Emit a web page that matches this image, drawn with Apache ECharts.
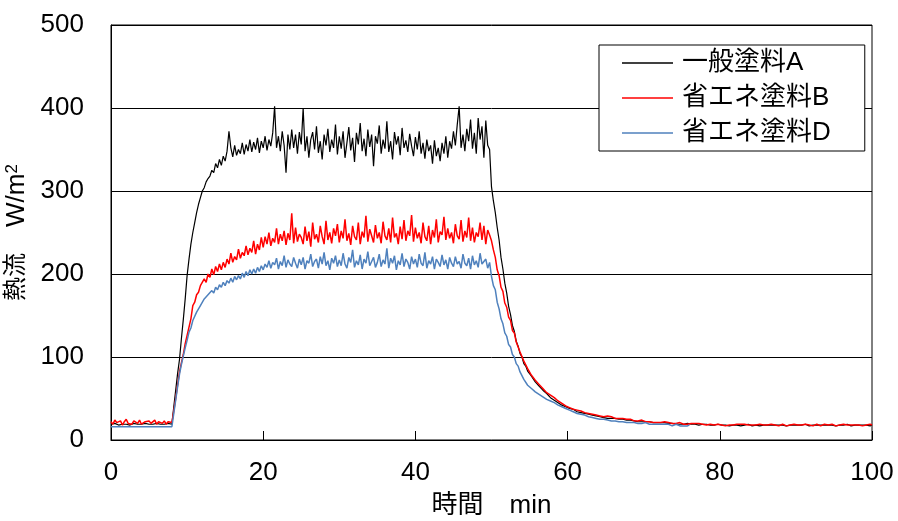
<!DOCTYPE html>
<html><head><meta charset="utf-8">
<script src="https://cdn.jsdelivr.net/npm/echarts@6/dist/echarts.min.js"></script>
<style>html,body{margin:0;padding:0;background:#fff}#c{width:898px;height:521px}</style>
</head><body><div id="c"></div>
<script>
// sampling interval of the measurements (minutes)
const stepMin = 0.25;
const seriesNames = ['一般塗料A', '省エネ塗料B', '省エネ塗料D'];
const xAxisTitle = '時間　min';
const yTicks = [0, 100, 200, 300, 400, 500];
const xTicks = [0, 20, 40, 60, 80, 100];

// 一般塗料A (W/m2), one value per 0.25 min from 0 to 100 min
const fluxA = [
19,19,20,19,18,19,19,20,19,19,18,19,20,19,19,18,19,19,20,19,
19,18,19,19,20,19,19,18,19,19,20,19,19,40,60,80,97,122,145,170,
198,218,236,250,262,274,284,292,300,304,311,315,318,325,322,333,328,338,331,342,
336,348,372,352,341,355,343,350,345,358,344,356,348,362,347,359,350,364,346,360,
352,366,349,362,354,370,402,352,366,348,372,355,322,368,350,374,352,368,345,371,
356,400,348,366,340,362,371,350,378,346,360,338,368,355,375,347,362,352,380,344,
366,351,372,340,358,377,349,364,335,370,356,382,348,363,342,374,353,368,330,366,
357,379,345,362,351,384,347,360,338,371,356,366,343,376,352,361,347,369,354,342,
365,350,372,345,358,339,362,348,355,333,361,342,352,336,358,345,366,340,360,351,
372,355,380,402,352,368,348,375,360,386,351,370,345,388,362,378,340,385,355,350,
305,288,274,256,241,220,206,189,177,161,151,138,131,119,113,104,100,92,89,83,
81,77,75,70,69,65,65,60,59,56,55,51,51,48,47,45,45,42,42,40,
39,38,37,37,36,34,35,33,33,32,31,31,30,30,29,29,28,28,28,27,
27,26,27,26,25,26,25,25,24,25,24,24,23,24,23,23,23,22,23,22,
22,22,21,22,21,21,22,21,20,21,20,21,20,20,21,20,20,19,20,19,
20,19,19,20,19,19,18,19,19,18,19,19,18,19,18,18,19,18,18,19,
18,18,19,18,18,17,18,18,19,18,18,17,18,18,18,19,18,17,18,18,
18,17,18,18,19,18,17,18,18,18,17,18,19,18,18,17,18,18,17,18,
18,18,17,18,18,19,18,17,18,18,17,18,18,18,17,18,19,18,17,18,
18,17,18,18,17,18,18,19,18,17,18,18,17,18,18,18,17,18,18,17,
18];

// 省エネ塗料B
const fluxB = [
22,19,24,21,20,23,18,22,25,20,21,19,23,22,20,24,19,21,22,20,
23,20,21,24,19,22,21,20,23,19,22,21,21,35,50,66,82,93,103,116,
126,136,146,162,166,175,178,186,185,194,190,200,196,206,199,209,203,212,205,214,
208,218,212,225,214,221,217,230,219,226,222,234,223,231,226,240,224,236,229,244,
232,245,236,250,234,243,238,255,236,248,240,252,235,249,241,273,237,256,239,248,
244,236,257,240,251,233,262,242,248,238,258,245,236,264,241,250,237,255,246,260,
238,252,243,266,240,249,235,258,245,241,262,236,251,244,270,239,254,246,238,259,
243,250,237,263,246,241,255,238,268,244,249,236,257,242,265,240,252,246,271,239,
256,243,250,237,262,245,240,258,236,253,244,266,238,251,247,269,241,255,243,250,
237,260,246,242,265,239,252,244,268,240,256,238,250,245,262,241,258,236,253,247,
240,229,220,205,198,184,179,165,160,148,144,132,129,118,116,106,104,95,93,86,
84,78,78,72,72,67,67,62,62,57,58,54,54,51,51,47,48,44,45,41,
41,39,40,37,38,36,37,35,35,33,34,32,33,31,32,30,31,29,30,28,
28,29,27,28,27,26,27,26,25,26,25,25,24,25,24,23,24,23,23,24,
23,22,23,22,22,21,23,21,22,21,21,22,20,21,21,20,21,20,20,21,
20,19,21,19,20,20,19,20,18,20,19,19,20,18,19,19,20,18,19,19,
19,18,19,17,19,18,20,18,18,19,17,19,18,19,17,18,19,18,20,18,
18,19,17,18,19,18,17,19,18,18,20,17,18,19,18,17,19,18,18,19,
17,18,19,18,17,19,18,18,20,17,18,19,18,17,18,19,18,18,17,19,
18,17,19,18,18,19,17,18,19,18,17,18,19,18,18,17,19,18,18,19,
18];

// 省エネ塗料D (recorded to 76 min)
const fluxD = [
16,16,16,16,16,16,16,16,16,16,16,16,16,16,16,16,16,16,16,16,
16,16,16,16,16,16,16,16,16,16,16,16,16,32,48,64,79,91,101,111,
120,130,135,144,146,154,156,162,163,170,169,175,174,180,177,184,181,187,184,190,
186,192,189,195,190,197,193,198,194,201,196,203,198,205,200,206,201,208,203,210,
205,212,208,216,207,214,211,219,206,215,210,222,208,217,212,209,220,213,207,218,
211,220,206,216,213,224,209,215,218,207,221,212,226,210,216,205,219,213,222,209,
217,210,225,212,207,220,214,229,208,216,211,223,206,218,213,227,210,215,220,208,
214,224,209,217,212,231,207,219,213,222,205,216,211,225,209,218,214,206,221,212,
218,208,224,213,210,226,207,216,212,221,206,218,214,209,223,211,217,206,220,213,
209,221,212,215,207,224,213,210,219,206,222,211,216,208,225,212,210,218,207,214,
197,186,181,166,158,146,140,129,125,115,112,103,100,92,89,82,80,73,73,66,
66,62,62,58,58,55,56,52,52,49,50,47,48,45,46,42,43,40,41,38,
38,36,37,34,35,32,34,31,32,30,31,28,30,27,29,26,28,25,27,25,
25,24,25,23,24,23,24,22,23,22,23,21,22,21,22,21,21,20,21,20,
20,21,20,19,20,19,20,19,18,19,18,19,18,19,18,17,18,19,18,17,
18,17,18,17,18];

const seriesColors = ['#000000', '#FF0000', '#4F81BD'];
const seriesWidths = [1.2, 1.5, 1.5];

function toPairs(vals) { return vals.map((v, i) => [i * stepMin, v]); }

const FONT = "'Liberation Sans','Noto Sans CJK JP',sans-serif";
const chart = echarts.init(document.getElementById('c'), null, {renderer: 'canvas'});
const allData = [fluxA, fluxB, fluxD];

chart.setOption({
  animation: false,
  backgroundColor: '#fff',
  textStyle: {fontFamily: FONT, color: '#000'},
  grid: {left: 111, right: 26, top: 25, bottom: 81, show: true, borderColor: '#000', borderWidth: 1,
         containLabel: false, outerBoundsMode: 'none'},
  legend: {
    orient: 'vertical', left: 599, top: 45,
    padding: [5, 34, 5, 23], itemGap: 9, itemWidth: 51, itemHeight: 1.5,
    icon: 'rect',
    backgroundColor: '#fff', borderColor: '#000', borderWidth: 1,
    textStyle: {fontSize: 26, color: '#000', lineHeight: 26, fontFamily: FONT, padding: [0, 0, 0, 4]},
    data: seriesNames
  },
  xAxis: {
    type: 'value', min: xTicks[0], max: xTicks[xTicks.length - 1], interval: 20,
    axisLine: {lineStyle: {color: '#000'}},
    axisTick: {inside: true, length: 9, lineStyle: {color: '#000'}},
    axisLabel: {fontSize: 26, color: '#000', margin: 20, fontFamily: FONT},
    splitLine: {show: false},
    name: xAxisTitle, nameLocation: 'middle', nameGap: 53,
    nameTextStyle: {fontSize: 26, color: '#000', fontFamily: FONT}
  },
  yAxis: {
    type: 'value', min: yTicks[0], max: yTicks[yTicks.length - 1], interval: 100,
    axisLine: {show: true, lineStyle: {color: '#000'}},
    axisTick: {show: false},
    axisLabel: {fontSize: 26, color: '#000', margin: 27, fontFamily: FONT},
    splitLine: {lineStyle: {color: '#000', width: 1}},
    name: '{a|熱流}{g|　}{b|W/m}{s|2}', nameLocation: 'middle', nameGap: 74,
    nameTextStyle: {
      color: '#000', fontFamily: FONT,
      rich: {
        a: {fontSize: 24, fontFamily: FONT, color: '#000'},
        g: {fontSize: 26, fontFamily: FONT},
        b: {fontSize: 26, fontFamily: FONT, color: '#000'},
        s: {fontSize: 17, fontFamily: FONT, color: '#000', verticalAlign: 'top'}
      }
    }
  },
  series: seriesNames.map((n, k) => ({
    name: n, type: 'line', symbol: 'none', showSymbol: false,
    data: toPairs(allData[k]),
    color: seriesColors[k],
    lineStyle: {color: seriesColors[k], width: seriesWidths[k]},
    z: 2 + k
  }))
});
</script>
</body></html>
